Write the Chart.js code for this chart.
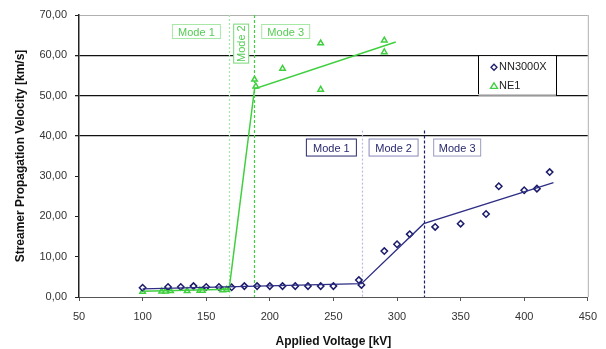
<!DOCTYPE html>
<html>
<head>
<meta charset="utf-8">
<script src="https://cdn.jsdelivr.net/npm/chart.js@4.4.1/dist/chart.umd.min.js"></script>
<style>
  body { margin: 0; background: #fff; }
  #wrap { width: 606px; height: 349px; }
</style>
</head>
<body>
<div id="wrap"><canvas id="chart" width="606" height="349"></canvas></div>
<script>
// 测量数据 NN3000X
const nnVoltage = [100, 120, 130, 140, 150, 160, 170, 180, 190, 200, 210, 220, 230, 240, 250, 270, 272, 290, 300, 310, 330, 350, 370, 380, 400, 410, 420];
const nnVelocity = [2.3, 2.5, 2.5, 2.7, 2.5, 2.5, 2.4, 2.7, 2.7, 2.7, 2.7, 2.7, 2.7, 2.7, 2.7, 4.2, 3.0, 11.4, 13.1, 15.6, 17.4, 18.2, 20.6, 27.5, 26.5, 26.9, 31.0];

// 测量数据 NE1
const neVoltage = [100, 115, 118, 122, 135, 145, 147, 163, 166, 188, 189, 210, 240, 240, 290, 290];
const neVelocity = [1.3, 1.4, 1.4, 1.5, 1.5, 1.6, 1.6, 1.7, 1.8, 54.0, 52.3, 56.7, 63.0, 51.5, 60.8, 63.7];

// 趋势线
const nnFitVoltage = [100, 272, 321, 423];
const nnFitVelocity = [2.0, 3.3, 18.2, 28.4];
const neFitVoltage = [100, 168, 188, 299];
const neFitVelocity = [1.4, 1.9, 51.7, 63.3];

// 模式分界
const neModeBounds = [167.6, 187.7];
const nnModeBounds = [272.5, 321.5];
const modeLabels = ["Mode 1", "Mode 2", "Mode 3"];

const xTicks = [50, 100, 150, 200, 250, 300, 350, 400, 450];
const yTicks = [0, 10, 20, 30, 40, 50, 60, 70];

const NAVY = "#1c1c6b";
const GREEN = "#3fcf3f";

function pts(xs, ys) {
    return xs.map((x, i) => ({ x: x, y: ys[i] }));
}

// 叠加层：分界线、模式标签、图例
const overlay = {
    id: "overlay",
    beforeDatasetsDraw(chart) {
        const ctx = chart.ctx;
        const xs = chart.scales.x, ys = chart.scales.y;
        const area = chart.chartArea;
        ctx.save();
        // 右边框
        ctx.strokeStyle = "#b0b0b0";
        ctx.lineWidth = 1;
        ctx.beginPath();
        ctx.moveTo(area.right + 0.5, area.top);
        ctx.lineTo(area.right + 0.5, area.bottom);
        ctx.stroke();

        const vline = (v, top, color, dash) => {
            const px = Math.round(xs.getPixelForValue(v)) + 0.5;
            ctx.strokeStyle = color;
            ctx.setLineDash(dash);
            ctx.lineWidth = 1.2;
            ctx.beginPath();
            ctx.moveTo(px, ys.getPixelForValue(top));
            ctx.lineTo(px, area.bottom);
            ctx.stroke();
        };
        vline(neModeBounds[0], 70, "#a6e8a6", [2, 2]);
        vline(neModeBounds[1], 70, GREEN, [3, 2]);
        vline(nnModeBounds[0], 41.3, "#b8b8e0", [2, 2]);
        vline(nnModeBounds[1], 41.3, NAVY, [3, 2]);
        ctx.setLineDash([]);
        ctx.restore();
    },
    afterDatasetsDraw(chart) {
        const ctx = chart.ctx;
        const xs = chart.scales.x, ys = chart.scales.y;
        ctx.save();
        ctx.font = "11px 'Liberation Sans', Arial, sans-serif";
        ctx.textAlign = "center";
        ctx.textBaseline = "middle";

        const box = (text, vx, vy, w, h, textColor, boxColor, rot) => {
            const cx = xs.getPixelForValue(vx), cy = ys.getPixelForValue(vy);
            ctx.save();
            ctx.translate(cx, cy);
            if (rot) ctx.rotate(-Math.PI / 2);
            ctx.fillStyle = "#fff";
            ctx.fillRect(-w / 2, -h / 2, w, h);
            ctx.strokeStyle = boxColor;
            ctx.lineWidth = 1;
            ctx.strokeRect(-w / 2 + 0.5, -h / 2 + 0.5, w - 1, h - 1);
            ctx.fillStyle = textColor;
            ctx.fillText(text, 0, 1);
            ctx.restore();
        };
        // NE1 模式
        box(modeLabels[0], 142.3, 65.9, 49, 15, "#55cc55", "#a6e8a6", false);
        box(modeLabels[1], 177.5, 62.9, 40, 16, "#55cc55", "#7ad87a", true);
        box(modeLabels[2], 212.5, 65.9, 49, 15, "#55cc55", "#a6e8a6", false);
        // NN3000X 模式
        box(modeLabels[0], 248.4, 37.1, 51, 18, "#2a2a70", "#2a2a70", false);
        box(modeLabels[1], 297.3, 37.1, 50, 18, "#2a2a70", "#8888bb", false);
        box(modeLabels[2], 347.3, 37.1, 48, 18, "#2a2a70", "#9a9ac0", false);

        // 图例
        const lx = 478, rx = 556, ty = ys.getPixelForValue(60), by = ys.getPixelForValue(50);
        ctx.fillStyle = "#fff";
        ctx.fillRect(lx, ty + 1, rx - lx, by - ty - 1);
        ctx.strokeStyle = "#000";
        ctx.beginPath();
        ctx.moveTo(lx + 0.5, ty);
        ctx.lineTo(lx + 0.5, by);
        ctx.moveTo(rx + 0.5, ty);
        ctx.lineTo(rx + 0.5, by);
        ctx.stroke();
        ctx.strokeStyle = "#c8c8c8";
        ctx.beginPath();
        ctx.moveTo(lx, Math.round(by) - 1.5);
        ctx.lineTo(rx, Math.round(by) - 1.5);
        ctx.stroke();

        ctx.textAlign = "left";
        ctx.fillStyle = "#222";
        ctx.fillText("NN3000X", 499, ty + 12);
        ctx.fillText("NE1", 499, ty + 31);
        ctx.lineWidth = 1.3;
        ctx.strokeStyle = NAVY;
        ctx.beginPath();
        ctx.moveTo(494, ty + 9); ctx.lineTo(497, ty + 12); ctx.lineTo(494, ty + 15); ctx.lineTo(491, ty + 12); ctx.closePath();
        ctx.stroke();
        ctx.strokeStyle = GREEN;
        ctx.beginPath();
        ctx.moveTo(494, ty + 27.5); ctx.lineTo(497.5, ty + 33); ctx.lineTo(490.5, ty + 33); ctx.closePath();
        ctx.stroke();
        ctx.restore();
    }
};

new Chart(document.getElementById("chart").getContext("2d"), {
    type: "scatter",
    data: {
        datasets: [
            {
                label: "NN3000X fit",
                data: pts(nnFitVoltage, nnFitVelocity),
                showLine: true,
                borderColor: "#2e2e85",
                borderWidth: 1.3,
                pointRadius: 0
            },
            {
                label: "NE1 fit",
                data: pts(neFitVoltage, neFitVelocity),
                showLine: true,
                borderColor: GREEN,
                borderWidth: 1.5,
                pointRadius: 0
            },
            {
                label: "NN3000X",
                data: pts(nnVoltage, nnVelocity),
                pointStyle: "rectRot",
                pointRadius: 3.2,
                borderColor: NAVY,
                backgroundColor: "#fff",
                borderWidth: 1.5
            },
            {
                label: "NE1",
                data: pts(neVoltage, neVelocity),
                pointStyle: "triangle",
                pointRadius: 3.2,
                borderColor: GREEN,
                backgroundColor: "#fff",
                borderWidth: 1.5
            }
        ]
    },
    options: {
        responsive: false,
        animation: false,
        layout: { padding: { left: 13, right: 16, top: 15, bottom: 0 } },
        plugins: {
            legend: { display: false },
            tooltip: { enabled: false }
        },
        scales: {
            x: {
                type: "linear",
                min: 50,
                max: 450,
                afterBuildTicks: (s) => { s.ticks = xTicks.map(v => ({ value: v })); },
                afterFit: (s) => { s.height = 52; },
                border: { color: "#555", width: 1 },
                grid: { drawOnChartArea: false, tickLength: 4, tickColor: "#555" },
                ticks: { color: "#333", padding: 9, font: { family: "'Liberation Sans', Arial, sans-serif", size: 11 } },
                title: {
                    display: true,
                    text: "Applied Voltage [kV]",
                    color: "#111",
                    padding: { top: 4, bottom: 0 },
                    font: { family: "'Liberation Sans', Arial, sans-serif", size: 12, weight: "bold" }
                }
            },
            y: {
                min: 0,
                max: 70,
                afterBuildTicks: (s) => { s.ticks = yTicks.map(v => ({ value: v })); },
                afterFit: (s) => { s.width = 66; },
                border: { color: "#222", width: 1.5 },
                grid: {
                    color: (c) => c.tick.value === 70 ? "#b0b0b0" : ([40, 50, 60].includes(c.tick.value) ? "#111" : "rgba(0,0,0,0)"),
                    lineWidth: (c) => [40, 50, 60].includes(c.tick.value) ? 1.3 : 1,
                    tickColor: "#222",
                    tickLength: 4
                },
                ticks: {
                    color: "#333",
                    padding: 8,
                    font: { family: "'Liberation Sans', Arial, sans-serif", size: 11 },
                    callback: (v) => v.toFixed(2).replace(".", ",")
                },
                title: {
                    display: true,
                    text: "Streamer Propagation Velocity [km/s]",
                    color: "#111",
                    padding: 0,
                    font: { family: "'Liberation Sans', Arial, sans-serif", size: 12, weight: "bold" }
                }
            }
        }
    },
    plugins: [overlay]
});
</script>
</body>
</html>
